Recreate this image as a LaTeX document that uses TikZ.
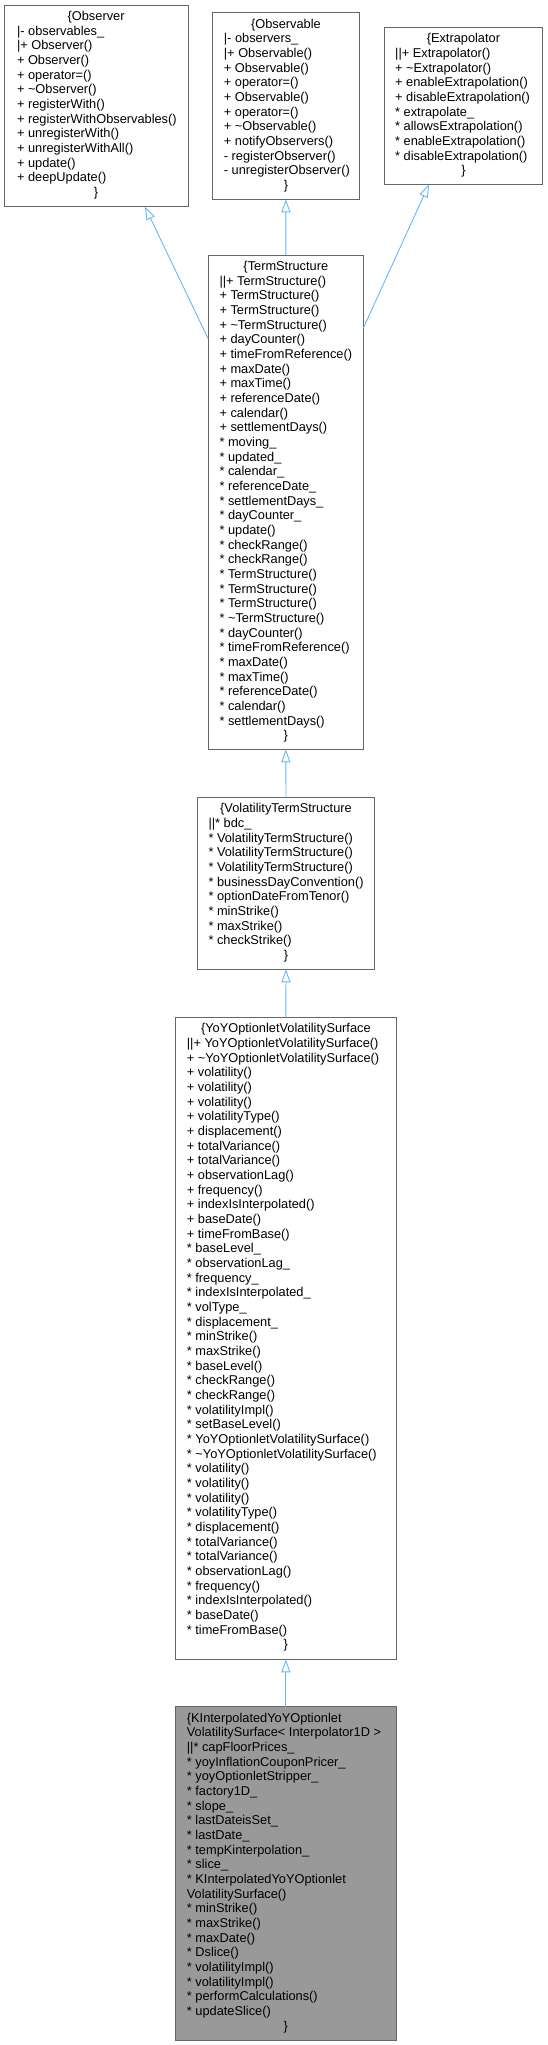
\documentclass[tikz,border=0pt]{standalone}
\usepackage{fontspec}
\setmainfont{Liberation Sans}
\usetikzlibrary{arrows.meta,calc}
\definecolor{edgeblue}{HTML}{63B8FF}
\definecolor{boxgray}{HTML}{666666}
\definecolor{boxfill}{HTML}{999999}
\newcommand\dxfont{\fontsize{12.8}{14.67}\selectfont}
\newcommand\tld{\textasciitilde}
\tikzset{
  cls/.style={draw=boxgray, line width=1pt, fill=white, inner sep=0pt, outer sep=0pt, anchor=north west},
  clsdark/.style={cls, fill=boxfill},
  txt/.style={inner sep=0pt, font=\dxfont, align=left, anchor=base west},
  hdr/.style={inner sep=0pt, font=\dxfont, anchor=base},
  inh/.style={draw=edgeblue, line width=0.9pt, -{Triangle[open, length=13pt, width=9pt, fill=white]}},
}
\begin{document}
\begin{tikzpicture}[x=1pt,y=-1pt]
\useasboundingbox (0,0) rectangle (548,2045);

% Observer
\node[cls, minimum width=183.8pt, minimum height=201.7pt] (obsr) at (4.2,5) {};
\node[hdr] (obsrh) at (96.1,20.5) {\{Observer};
\node[txt] (obsrb) at (16.8,181.87) {|- observables\_\\|+ Observer()\\+ Observer()\\+ operator=()\\+ \tld Observer()\\+ registerWith()\\+ registerWithObservables()\\+ unregisterWith()\\+ unregisterWithAll()\\+ update()\\+ deepUpdate()};
\node[hdr] (obsre) at (96.1,196.54) {\}};

% Observable
\node[cls, minimum width=146.8pt, minimum height=186.6pt] (obsl) at (212.5,12.7) {};
\node[hdr] (obslh) at (285.9,28.2) {\{Observable};
\node[txt] (obslb) at (223.7,174.9) {|- observers\_\\|+ Observable()\\+ Observable()\\+ operator=()\\+ Observable()\\+ operator=()\\+ \tld Observable()\\+ notifyObservers()\\- registerObserver()\\- unregisterObserver()};
\node[hdr] (obsle) at (285.9,189.57) {\}};

% Extrapolator
\node[cls, minimum width=158.7pt, minimum height=157pt] (extr) at (384.1,27.3) {};
\node[hdr] (extrh) at (463.4,42.8) {\{Extrapolator};
\node[txt] (extrb) at (395,160.16) {||+ Extrapolator()\\+ \tld Extrapolator()\\+ enableExtrapolation()\\+ disableExtrapolation()\\* extrapolate\_\\* allowsExtrapolation()\\* enableExtrapolation()\\* disableExtrapolation()};
\node[hdr] (extre) at (463.4,174.83) {\}};

% TermStructure
\node[cls, minimum width=155pt, minimum height=494.3pt] (ts) at (208.3,255) {};
\node[hdr] (tsh) at (285.8,270.5) {\{TermStructure};
\node[txt] (tsb) at (219.3,725.27) {||+ TermStructure()\\+ TermStructure()\\+ TermStructure()\\+ \tld TermStructure()\\+ dayCounter()\\+ timeFromReference()\\+ maxDate()\\+ maxTime()\\+ referenceDate()\\+ calendar()\\+ settlementDays()\\* moving\_\\* updated\_\\* calendar\_\\* referenceDate\_\\* settlementDays\_\\* dayCounter\_\\* update()\\* checkRange()\\* checkRange()\\* TermStructure()\\* TermStructure()\\* TermStructure()\\* \tld TermStructure()\\* dayCounter()\\* timeFromReference()\\* maxDate()\\* maxTime()\\* referenceDate()\\* calendar()\\* settlementDays()};
\node[hdr] (tse) at (285.8,739.94) {\}};

% VolatilityTermStructure
\node[cls, minimum width=177.4pt, minimum height=172pt] (vts) at (197.3,797.3) {};
\node[hdr] (vtsh) at (286,812.8) {\{VolatilityTermStructure};
\node[txt] (vtsb) at (208.3,944.83) {||* bdc\_\\* VolatilityTermStructure()\\* VolatilityTermStructure()\\* VolatilityTermStructure()\\* businessDayConvention()\\* optionDateFromTenor()\\* minStrike()\\* maxStrike()\\* checkStrike()};
\node[hdr] (vtse) at (286,959.5) {\}};

% YoYOptionletVolatilitySurface
\node[cls, minimum width=221.7pt, minimum height=642pt] (yoy) at (175,1017.3) {};
\node[hdr] (yoyh) at (285.85,1032.8) {\{YoYOptionletVolatilitySurface};
\node[txt] (yoyb) at (186.7,1634.27) {||+ YoYOptionletVolatilitySurface()\\+ \tld YoYOptionletVolatilitySurface()\\+ volatility()\\+ volatility()\\+ volatility()\\+ volatilityType()\\+ displacement()\\+ totalVariance()\\+ totalVariance()\\+ observationLag()\\+ frequency()\\+ indexIsInterpolated()\\+ baseDate()\\+ timeFromBase()\\* baseLevel\_\\* observationLag\_\\* frequency\_\\* indexIsInterpolated\_\\* volType\_\\* displacement\_\\* minStrike()\\* maxStrike()\\* baseLevel()\\* checkRange()\\* checkRange()\\* volatilityImpl()\\* setBaseLevel()\\* YoYOptionletVolatilitySurface()\\* \tld YoYOptionletVolatilitySurface()\\* volatility()\\* volatility()\\* volatility()\\* volatilityType()\\* displacement()\\* totalVariance()\\* totalVariance()\\* observationLag()\\* frequency()\\* indexIsInterpolated()\\* baseDate()\\* timeFromBase()};
\node[hdr] (yoye) at (285.85,1648.94) {\}};

% KInterpolatedYoYOptionletVolatilitySurface
\node[clsdark, minimum width=220.3pt, minimum height=333.3pt] (kint) at (175.7,1706.7) {};
\node[txt] (kintb) at (186.7,2015.6) {\{KInterpolatedYoYOptionlet\\VolatilitySurface< Interpolator1D >\\||* capFloorPrices\_\\* yoyInflationCouponPricer\_\\* yoyOptionletStripper\_\\* factory1D\_\\* slope\_\\* lastDateisSet\_\\* lastDate\_\\* tempKinterpolation\_\\* slice\_\\* KInterpolatedYoYOptionlet\\VolatilitySurface()\\* minStrike()\\* maxStrike()\\* maxDate()\\* Dslice()\\* volatilityImpl()\\* volatilityImpl()\\* performCalculations()\\* updateSlice()};
\node[hdr] (kinte) at (285.85,2030.27) {\}};

% inheritance edges
\draw[inh] ($(ts.north west)!0.170!(ts.south west)$) -- ($(obsr.south west)!0.766!(obsr.south east)$);
\draw[inh] (ts.north) -- (obsl.south);
\draw[inh] ($(ts.north east)!0.148!(ts.south east)$) -- ($(extr.south west)!0.283!(extr.south east)$);
\draw[inh] (vts.north) -- (ts.south);
\draw[inh] (yoy.north) -- (vts.south);
\draw[inh] (kint.north) -- (yoy.south);
\end{tikzpicture}
\end{document}
